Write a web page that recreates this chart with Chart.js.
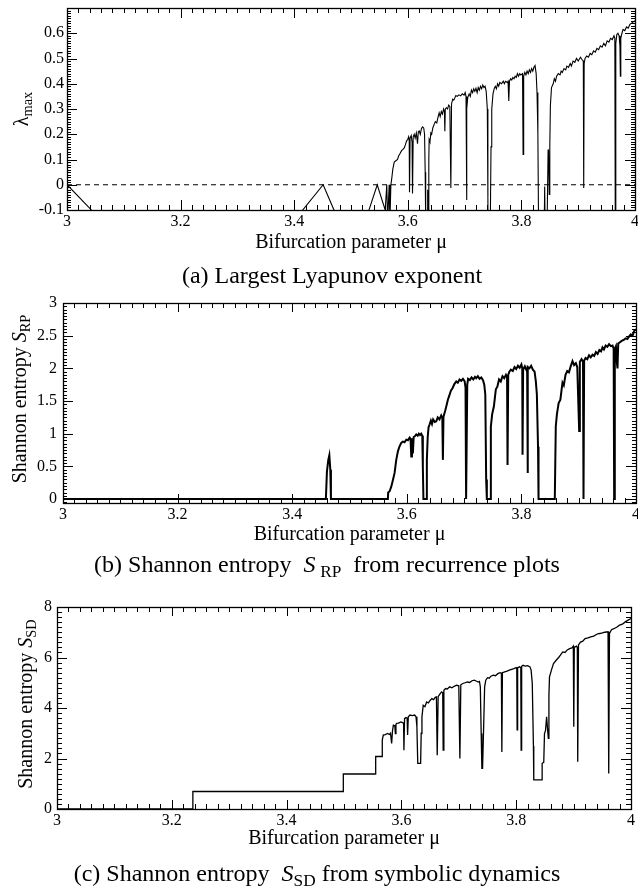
<!DOCTYPE html>
<html><head><meta charset="utf-8">
<script src="https://cdn.jsdelivr.net/npm/chart.js@4.4.0/dist/chart.umd.min.js"></script>
<style>
body{margin:0;width:638px;height:888px;background:#fff;position:relative;overflow:hidden;font-family:'Liberation Serif','Times New Roman',serif;color:#000}
canvas{position:absolute;left:0}
.t{position:absolute;white-space:nowrap;line-height:1}
.cap{font-size:24px;text-align:center;width:638px}
.xt{font-size:20px;text-align:center}
.yt{font-size:20px;transform:translate(-50%,-50%) rotate(-90deg)}
sub{font-size:72%;vertical-align:-0.28em;line-height:0}
</style></head><body>
<canvas id="ca" width="638" height="232" style="top:0"></canvas>
<canvas id="cb" width="638" height="235" style="top:290px"></canvas>
<canvas id="cc" width="638" height="235" style="top:596px"></canvas>

<div class="t yt" style="left:21px;top:109px">λ<sub>max</sub></div>
<div class="t xt" style="left:67px;width:568px;top:231px">Bifurcation parameter μ</div>
<div class="t cap" style="top:263px;left:13px">(a) Largest Lyapunov exponent</div>

<div class="t yt" style="left:19px;top:399px">Shannon entropy <i>S</i><sub>RP</sub></div>
<div class="t xt" style="left:63px;width:573px;top:523px">Bifurcation parameter μ</div>
<div class="t cap" style="top:552px;left:8px">(b) Shannon entropy&nbsp; <i>S</i>&thinsp;<sub>RP</sub>&nbsp; from recurrence plots</div>

<div class="t yt" style="left:25px;top:704px">Shannon entropy <i>S</i><sub>SD</sub></div>
<div class="t xt" style="left:57px;width:574px;top:827px">Bifurcation parameter μ</div>
<div class="t cap" style="top:861px;left:-2px">(c) Shannon entropy&nbsp; <i>S</i><sub>SD</sub> from symbolic dynamics</div>

<script>
// ---------- x tick labels (shared) ----------
const xTickValues = [3, 3.2, 3.4, 3.6, 3.8, 4];
const xTickLabels = ['3', '3.2', '3.4', '3.6', '3.8', '4'];

// ---------- (a) largest Lyapunov exponent ----------
const muA = [3.000,3.043,3.100,3.236,3.350,3.415,3.451,3.470,3.499,3.5316,3.5462,3.5602,3.5630,3.5645,3.5672,3.5685,3.5702,
3.5715,3.5735,3.5761,3.5790,3.5819,3.5840,3.5861,3.5890,3.5915,3.5937,3.5960,3.5977,3.6000,3.6015,3.6025,3.6030,3.6040,3.6060,3.6075,3.6083,3.6095,
3.6113,3.6130,3.6150,3.6171,3.6185,3.6201,3.6220,3.6240,3.6259,3.6280,3.6295,3.6306,3.6315,3.6330,3.6345,3.6350,3.6360,3.6370,3.6376,
3.6390,3.6406,3.6420,3.6440,3.6464,3.6485,3.6510,3.6530,3.6552,3.6570,3.6590,3.6610,3.6630,3.6645,3.6652,3.6660,3.6680,3.6700,3.6720,3.6740,3.6758,
3.6770,3.6790,3.6810,3.6830,3.6846,3.6870,3.6900,3.6930,3.6960,3.6990,3.7010,3.7025,3.7033,3.7042,3.7055,3.7080,3.7100,3.7120,3.7140,3.7160,3.7180,
3.7200,3.7221,3.7240,3.7260,3.7280,3.7300,3.7320,3.7340,3.7360,3.7380,3.7400,3.7410,3.7414,3.7440,3.7455,3.7465,3.7478,3.7500,3.7520,3.7540,3.7560,
3.7580,3.7600,3.7620,3.7650,3.7680,3.7700,3.7720,3.7750,3.7765,3.7778,3.7790,3.7810,3.7830,3.7850,3.7870,3.7890,3.7910,3.7930,3.7950,3.7970,3.7990,
3.8020,3.8030,3.8040,3.8060,3.8080,3.8100,3.8120,3.8140,3.8160,3.8180,3.8200,3.8220,3.8240,3.8260,3.8275,3.8290,3.8300,3.8310,3.8390,3.8410,3.8418,
3.8450,3.8470,3.8478,3.8490,3.8500,3.8510,3.8530,3.8560,3.8580,3.8600,3.8620,3.8650,3.8680,3.8700,3.8720,3.8750,3.8780,3.8800,3.8830,3.8860,3.8880,
3.8910,3.8940,3.8970,3.9000,3.9040,3.9070,3.9090,3.9097,3.9105,3.9120,3.9150,3.9180,3.9210,3.9240,3.9270,3.9300,3.9330,3.9360,3.9390,3.9420,3.9450,
3.9480,3.9510,3.9540,3.9570,3.9600,3.9630,3.9645,3.9654,3.9662,3.9680,3.9700,3.9720,3.9735,3.9742,3.9750,3.9770,3.9790,3.9820,3.9850,3.9880,3.9910,
3.9940,3.9970,4.0000];
const lyapA = [0.000,-0.100,-0.400,-1.500,-0.400,-0.100,0.000,-0.100,-0.800,-0.100,0.000,-0.100,0.000,-0.150,0.000,-0.150,0.000,
0.020,0.060,0.090,0.095,0.100,0.115,0.123,0.135,0.140,0.146,0.160,0.173,0.180,0.190,0.175,-0.030,0.185,0.195,0.170,-0.035,0.190,
0.200,0.185,0.205,0.163,0.210,0.213,0.200,0.222,0.229,0.225,0.200,0.050,-0.150,-0.300,-0.150,-0.020,-0.150,0.100,0.179,
0.170,0.205,0.200,0.225,0.239,0.250,0.245,0.266,0.285,0.270,0.290,0.280,0.300,0.290,0.212,0.300,0.305,0.300,0.315,0.310,-0.013,
0.320,0.339,0.335,0.345,0.353,0.350,0.356,0.352,0.360,0.355,0.365,0.350,-0.060,0.300,0.345,0.360,0.350,0.375,0.365,0.380,0.370,
0.382,0.365,0.385,0.375,0.390,0.380,0.395,0.385,0.390,0.370,0.300,-0.050,-0.300,-0.300,-0.100,0.150,0.299,0.360,0.380,0.390,0.380,
0.400,0.390,0.405,0.400,0.410,0.400,0.410,0.405,0.410,0.332,0.410,0.420,0.415,0.425,0.420,0.430,0.425,0.440,0.430,0.440,0.435,
0.440,0.120,0.430,0.445,0.435,0.450,0.440,0.455,0.445,0.460,0.450,0.465,0.472,0.440,0.365,0.207,-0.100,-0.400,-0.400,-0.007,-0.200,
-0.200,0.137,0.140,-0.038,0.150,0.312,0.385,0.400,0.420,0.410,0.430,0.440,0.435,0.450,0.445,0.460,0.455,0.470,0.465,0.480,0.470,
0.490,0.485,0.500,0.490,0.505,0.495,0.490,-0.013,0.480,0.500,0.510,0.505,0.520,0.515,0.530,0.525,0.540,0.535,0.550,0.545,0.560,
0.550,0.570,0.565,0.580,0.575,0.590,0.580,-0.300,0.560,0.595,0.600,0.590,0.550,0.430,0.580,0.600,0.615,0.610,0.625,0.620,0.635,
0.640,0.645,0.650];
const yTicksA = [-0.1, 0, 0.1, 0.2, 0.3, 0.4, 0.5, 0.6];
const yLabelsA = ['-0.1', '0', '0.1', '0.2', '0.3', '0.4', '0.5', '0.6'];
const zeroLineMu = [3, 4];
const zeroLineVal = [0, 0];

// ---------- (b) Shannon entropy from recurrence plots ----------
const muB = [3.000,3.4588,3.4606,3.4630,3.4648,3.4665,3.4676,3.5670,3.5675,3.5700,3.5729,3.5760,3.5787,3.5816,3.5845,3.5870,3.5903,3.5930,3.5960,
3.5991,3.6020,3.6049,3.6065,3.6078,3.6090,3.6106,3.6120,3.6140,3.6165,3.6190,3.6210,3.6230,3.6252,3.6270,3.6280,3.6290,3.6340,3.6350,3.6365,
3.6380,3.6397,3.6420,3.6440,3.6460,3.6490,3.6514,3.6540,3.6570,3.6600,3.6620,3.6630,3.6640,3.6670,3.6690,3.6717,3.6740,3.6770,3.6800,3.6830,
3.6863,3.6890,3.6920,3.6950,3.6980,3.7010,3.7025,3.7035,3.7045,3.7055,3.7070,3.7100,3.7130,3.7160,3.7190,3.7212,3.7240,3.7270,3.7300,3.7330,
3.7352,3.7370,3.7385,3.7397,3.7456,3.7467,3.7490,3.7520,3.7554,3.7580,3.7610,3.7640,3.7670,3.7700,3.7730,3.7750,3.7758,3.7770,3.7790,3.7816,
3.7850,3.7880,3.7910,3.7940,3.7970,3.8000,3.8015,3.8020,3.8030,3.8060,3.8085,3.8100,3.8107,3.8115,3.8140,3.8170,3.8200,3.8230,3.8252,3.8270,
3.8290,3.8299,3.8583,3.8600,3.8620,3.8650,3.8680,3.8717,3.8740,3.8770,3.8800,3.8830,3.8860,3.8892,3.8920,3.8950,3.8975,3.9008,3.9020,3.9050,
3.9075,3.9084,3.9095,3.9120,3.9150,3.9180,3.9210,3.9241,3.9270,3.9300,3.9330,3.9360,3.9390,3.9415,3.9440,3.9470,3.9500,3.9530,3.9560,3.9590,
3.9610,3.9619,3.9630,3.9650,3.9665,3.9677,3.9690,3.9720,3.9750,3.9794,3.9820,3.9850,3.9880,3.9910,3.9940,3.9968,4.0000];
const entropyRP = [0,0,0.42,0.60,0.67,0.45,0,0,0.10,0.12,0.19,0.30,0.40,0.60,0.73,0.80,0.86,0.88,0.87,
0.91,0.90,0.94,0.92,0.65,0.93,0.70,0.95,0.96,0.99,0.97,1.00,0.98,1.00,0.97,0.50,0.00,0.00,0.60,0.95,
1.10,1.14,1.20,1.15,1.22,1.18,1.19,1.25,1.22,1.28,1.24,0.60,1.26,1.35,1.42,1.52,1.58,1.66,1.70,1.76,
1.80,1.78,1.83,1.81,1.84,1.80,1.70,0.00,0.00,1.75,1.84,1.82,1.86,1.83,1.87,1.85,1.88,1.84,1.86,1.82,
1.75,1.60,0.30,0.00,0.00,1.11,1.30,1.42,1.68,1.72,1.83,1.80,1.88,1.85,1.90,1.86,0.52,1.90,1.95,1.98,
1.96,2.02,1.99,2.04,2.01,2.06,2.00,0.68,1.98,2.03,1.98,2.00,0.40,2.02,2.00,2.04,1.98,1.95,1.80,1.60,
0.80,0.00,0.00,1.11,1.30,1.47,1.52,1.78,1.74,1.90,1.96,1.94,2.03,2.11,2.05,2.08,2.02,1.04,2.10,2.14,
2.10,0.00,2.12,2.16,2.14,2.20,2.17,2.21,2.19,2.25,2.22,2.28,2.26,2.32,2.29,2.35,2.33,2.37,2.34,2.35,
2.30,0.00,2.30,2.34,2.10,2.00,2.38,2.40,2.42,2.44,2.46,2.45,2.49,2.52,2.50,2.57,2.60];
const yTicksB = [0, 0.5, 1, 1.5, 2, 2.5, 3];
const yLabelsB = ['0', '0.5', '1', '1.5', '2', '2.5', '3'];

// ---------- (c) Shannon entropy from symbolic dynamics ----------
const muC = [3.000,3.2367,3.2367,3.4988,3.4988,3.5552,3.5552,3.5667,3.5667,3.5684,3.5720,3.5760,3.5790,3.5810,3.5830,3.5845,3.5860,3.5885,3.5895,
3.5905,3.5917,3.5950,3.5990,3.6020,3.6038,3.6044,3.6055,3.6080,3.6100,3.6108,3.6120,3.6150,3.6190,3.6230,3.6255,3.6270,3.6285,3.6335,3.6345,
3.6358,3.6380,3.6410,3.6440,3.6470,3.6500,3.6530,3.6560,3.6590,3.6610,3.6624,3.6640,3.6670,3.6700,3.6720,3.6728,3.6740,3.6770,3.6800,3.6840,
3.6880,3.6920,3.6960,3.7000,3.7019,3.7035,3.7070,3.7110,3.7150,3.7190,3.7230,3.7270,3.7310,3.7340,3.7360,3.7375,3.7390,3.7402,3.7414,3.7430,
3.7450,3.7470,3.7500,3.7530,3.7560,3.7600,3.7640,3.7680,3.7720,3.7742,3.7750,3.7760,3.7800,3.7840,3.7880,3.7920,3.7960,3.8000,3.8010,3.8016,
3.8025,3.8060,3.8080,3.8086,3.8095,3.8120,3.8160,3.8200,3.8240,3.8260,3.8280,3.8300,3.8306,3.8452,3.8452,3.8480,3.8493,3.8510,3.8530,3.8545,
3.8560,3.8570,3.8580,3.8620,3.8650,3.8700,3.8740,3.8770,3.8811,3.8850,3.8890,3.8930,3.8970,3.8995,3.9003,3.9012,3.9050,3.9065,3.9072,3.9085,
3.9120,3.9160,3.9200,3.9250,3.9300,3.9350,3.9420,3.9480,3.9540,3.9600,3.9612,3.9625,3.9660,3.9700,3.9750,3.9800,3.9850,3.9900,3.9950,4.0000];
const entropySD = [0,0,0.693,0.693,1.386,1.386,2.079,2.079,2.73,2.93,2.95,2.99,2.95,3.00,2.60,3.10,3.32,3.30,2.99,
3.35,3.39,3.40,3.45,3.42,3.40,2.33,3.58,3.62,3.60,2.93,3.65,3.72,3.70,3.72,3.65,3.26,1.81,1.81,3.00,
3.65,4.11,4.05,4.24,4.20,4.30,4.37,4.33,4.42,4.44,2.13,4.45,4.55,4.64,4.60,2.33,4.70,4.77,4.75,4.84,
4.80,4.86,4.90,4.88,2.00,4.92,4.97,5.00,5.03,5.01,5.08,5.10,5.06,5.03,5.05,4.84,2.99,1.61,1.61,2.99,
4.84,5.10,5.20,5.18,5.26,5.30,5.28,5.36,5.40,5.38,2.26,5.40,5.43,5.46,5.50,5.53,5.56,5.60,5.55,3.13,
5.60,5.63,5.60,2.33,5.65,5.69,5.66,5.68,5.63,5.50,4.97,2.50,1.15,1.15,1.81,1.85,2.99,3.10,3.65,3.20,
2.80,4.50,5.23,5.55,5.76,5.90,6.00,6.09,6.22,6.20,6.30,6.35,6.38,6.45,3.26,6.40,6.45,6.40,1.87,6.50,
6.61,6.65,6.75,6.78,6.82,6.85,6.94,6.96,7.00,7.02,1.41,6.95,7.10,7.14,7.20,7.28,7.32,7.41,7.48,7.54];
const yTicksC = [0, 2, 4, 6, 8];
const yLabelsC = ['0', '2', '4', '6', '8'];

// ---------- helpers ----------
const pts = (xs, ys) => xs.map((v, i) => ({x: v, y: ys[i]}));
const FONT = {family: "'Liberation Serif','Times New Roman',serif", size: 16};

function framePlugin(o) {
  return {
    id: 'frame',
    afterDatasetsDraw(chart) {
      const {ctx, chartArea: a, scales: {x, y}} = chart;
      ctx.save();
      ctx.strokeStyle = '#000';
      ctx.lineWidth = 1;
      ctx.beginPath();
      const nx = Math.round((x.max - x.min) / o.xMinor);
      for (let i = 0; i <= nx; i++) {
        const v = x.min + i * o.xMinor;
        const major = i % o.xEvery === 0;
        const L = major ? o.xMaj : o.xMin;
        const px = Math.round(x.getPixelForValue(v)) + 0.5;
        ctx.moveTo(px, a.bottom); ctx.lineTo(px, a.bottom - L);
        ctx.moveTo(px, a.top); ctx.lineTo(px, a.top + L);
      }
      const i0 = Math.ceil(y.min / o.yMinor - 1e-6), i1 = Math.floor(y.max / o.yMinor + 1e-6);
      for (let i = i0; i <= i1; i++) {
        const v = i * o.yMinor;
        const major = ((i % o.yEvery) + o.yEvery) % o.yEvery === 0;
        const L = major ? o.yMaj : o.yMin;
        const py = Math.round(y.getPixelForValue(v)) + 0.5;
        ctx.moveTo(a.left, py); ctx.lineTo(a.left + L, py);
        ctx.moveTo(a.right, py); ctx.lineTo(a.right - L, py);
      }
      ctx.stroke();
      ctx.lineWidth = 1.3;
      ctx.strokeRect(Math.round(a.left) + 0.5, Math.round(a.top) + 0.5,
                     Math.round(a.right - a.left), Math.round(a.bottom - a.top));
      ctx.restore();
    }
  };
}

function makeChart(id, datasets, L, T, R, B, yMin, yMax, yTicks, yLabels, yPad, frame) {
  const el = document.getElementById(id);
  const W = el.width, H = el.height;
  return new Chart(el, {
    type: 'line',
    data: {datasets},
    options: {
      responsive: false, animation: false, devicePixelRatio: 1,
      layout: {padding: {left: 0, top: T, right: W - R, bottom: 0}},
      plugins: {legend: {display: false}, tooltip: {enabled: false}},
      elements: {point: {radius: 0}, line: {tension: 0}},
      scales: {
        x: {
          type: 'linear', min: 3, max: 4,
          grid: {display: false, drawTicks: false}, border: {display: false},
          afterBuildTicks: s => { s.ticks = xTickValues.map(v => ({value: v})); },
          afterFit: s => { s.height = H - B; s.paddingLeft = 0; s.paddingRight = 0; },
          ticks: {color: '#000', font: FONT, padding: 2, maxRotation: 0, autoSkip: false,
                  callback: (v, i) => xTickLabels[i]}
        },
        y: {
          type: 'linear', min: yMin, max: yMax,
          grid: {display: false, drawTicks: false}, border: {display: false},
          afterBuildTicks: s => { s.ticks = yTicks.map(v => ({value: v})); },
          afterFit: s => { s.width = L; s.paddingTop = 0; s.paddingBottom = 0; },
          ticks: {color: '#000', font: FONT, padding: yPad, autoSkip: false,
                  callback: (v, i) => yLabels[i]}
        }
      }
    },
    plugins: [framePlugin(frame)]
  });
}

makeChart('ca', [
  {data: pts(muA, lyapA), borderColor: '#000', borderWidth: 1.1, fill: false},
  {data: pts(zeroLineMu, zeroLineVal), borderColor: '#000', borderWidth: 1, borderDash: [5, 4], fill: false}
], 67, 8, 635, 210, -0.1, 0.7, yTicksA, yLabelsA, 3,
  {xMinor: 0.02, xEvery: 10, xMaj: 10, xMin: 5, yMinor: 0.01, yEvery: 10, yMaj: 10, yMin: 4});

makeChart('cb', [
  {data: pts(muB, entropyRP), borderColor: '#000', borderWidth: 2, fill: false}
], 63, 13, 636, 213, -0.06, 3, yTicksB, yLabelsB, 6,
  {xMinor: 0.02, xEvery: 10, xMaj: 9, xMin: 5, yMinor: 0.05, yEvery: 10, yMaj: 10, yMin: 4});

makeChart('cc', [
  {data: pts(muC, entropySD), borderColor: '#000', borderWidth: 1.3, fill: false}
], 57, 11, 631, 213, 0, 8, yTicksC, yLabelsC, 5,
  {xMinor: 0.02, xEvery: 10, xMaj: 9, xMin: 5, yMinor: 0.2, yEvery: 10, yMaj: 10, yMin: 5});
</script>
</body></html>
